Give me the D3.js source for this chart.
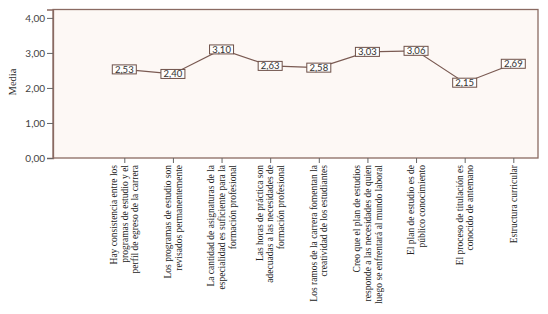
<!DOCTYPE html>
<html><head><meta charset="utf-8">
<script src="https://cdn.jsdelivr.net/npm/d3@7/dist/d3.min.js"></script>
<style>body{margin:0;background:#fff}</style>
</head><body>
<script>
const categories = [
  ["Hay consistencia entre los","programas de estudio y el","perfil de egreso de la carrera"],
  ["Los programas de estudio son","revisados permanentemente"],
  ["La cantidad de asignaturas de la","especialidad es suficiente para la","formación profesional"],
  ["Las horas de práctica son","adecuadas a las necesidades de","formación profesional"],
  ["Los ramos de la carrera fomentan la","creatividad de los estudiantes"],
  ["Creo que el plan de estudios","responde a las necesidades de quien","luego se enfrentará al mundo laboral"],
  ["El plan de estudio es de","público conocimiento"],
  ["El proceso de titulación es","conocido de antemano"],
  ["Estructura curricular"]
];
const values = [2.53, 2.40, 3.10, 2.63, 2.58, 3.03, 3.06, 2.15, 2.69];
const yTicks = [0, 1, 2, 3, 4];
const yLabel = "Media";

const W = 548, H = 314;
const pLeft = 53, pRight = 538, pTop = 9.5, pBottom = 158;
const fmt = v => v.toFixed(2).replace(".", ",");
const brown = "#8a6a62";

const svg = d3.select("body").append("svg").attr("width", W).attr("height", H);

const y = d3.scaleLinear().domain([0, 4.24]).range([pBottom, pTop]);
const x = d3.scalePoint().domain(d3.range(categories.length)).range([124.3, 513.3]);

svg.append("rect").attr("x", pLeft).attr("y", pTop).attr("width", pRight - pLeft).attr("height", pBottom - pTop)
  .attr("fill", "#fdf8f5").attr("stroke", brown).attr("stroke-width", 1.3);

// y axis
const ya = svg.append("g").attr("transform", `translate(${pLeft},0)`)
  .call(d3.axisLeft(y).tickValues(yTicks).tickFormat(fmt).tickSize(6).tickPadding(2));
ya.select(".domain").attr("stroke", brown).attr("stroke-width", 1.3);
ya.selectAll(".tick line").attr("stroke", "#666");
ya.selectAll(".tick text").attr("font-family", "Lato, 'Open Sans', sans-serif").attr("font-size", 10).attr("fill", "#444");

// x axis
const xa = svg.append("g").attr("transform", `translate(0,${pBottom})`)
  .call(d3.axisBottom(x).tickFormat("").tickSize(5));
xa.select(".domain").remove();
xa.selectAll(".tick line").attr("stroke", "#666");

// category labels
categories.forEach((lines, i) => {
  const n = lines.length;
  const t = svg.append("text")
    .attr("transform", `translate(${x(i)},${pBottom + 7}) rotate(-90)`)
    .attr("text-anchor", "end")
    .attr("font-family", "'Liberation Serif', 'Times New Roman', serif")
    .attr("font-size", 9.5).attr("fill", "#222");
  lines.forEach((ln, k) => {
    t.append("tspan").attr("x", 0).attr("y", (k - (n - 1) / 2) * 10.8 + 3.3).text(ln);
  });
});

// y label
svg.append("text").attr("transform", `translate(16,82) rotate(-90)`)
  .attr("text-anchor", "middle").attr("font-family", "'Liberation Serif', serif")
  .attr("font-size", 10.5).attr("fill", "#333").text(yLabel);

// line
svg.append("path").datum(values)
  .attr("d", d3.line().x((d, i) => x(i)).y(d => y(d)))
  .attr("fill", "none").attr("stroke", "#7a5a52").attr("stroke-width", 1.2);

// value boxes
const g = svg.selectAll(".lab").data(values).enter().append("g")
  .attr("transform", (d, i) => `translate(${x(i)},${y(d)})`);
g.append("rect").attr("x", -12).attr("y", -4.5).attr("width", 24).attr("height", 9)
  .attr("fill", "#fefdfc").attr("stroke", "#6e5048").attr("stroke-width", 1);
g.append("text").attr("text-anchor", "middle").attr("y", 3.5)
  .attr("font-family", "Lato, 'Open Sans', sans-serif").attr("font-size", 9.5).attr("fill", "#333")
  .text(fmt);
</script>
</body></html>
